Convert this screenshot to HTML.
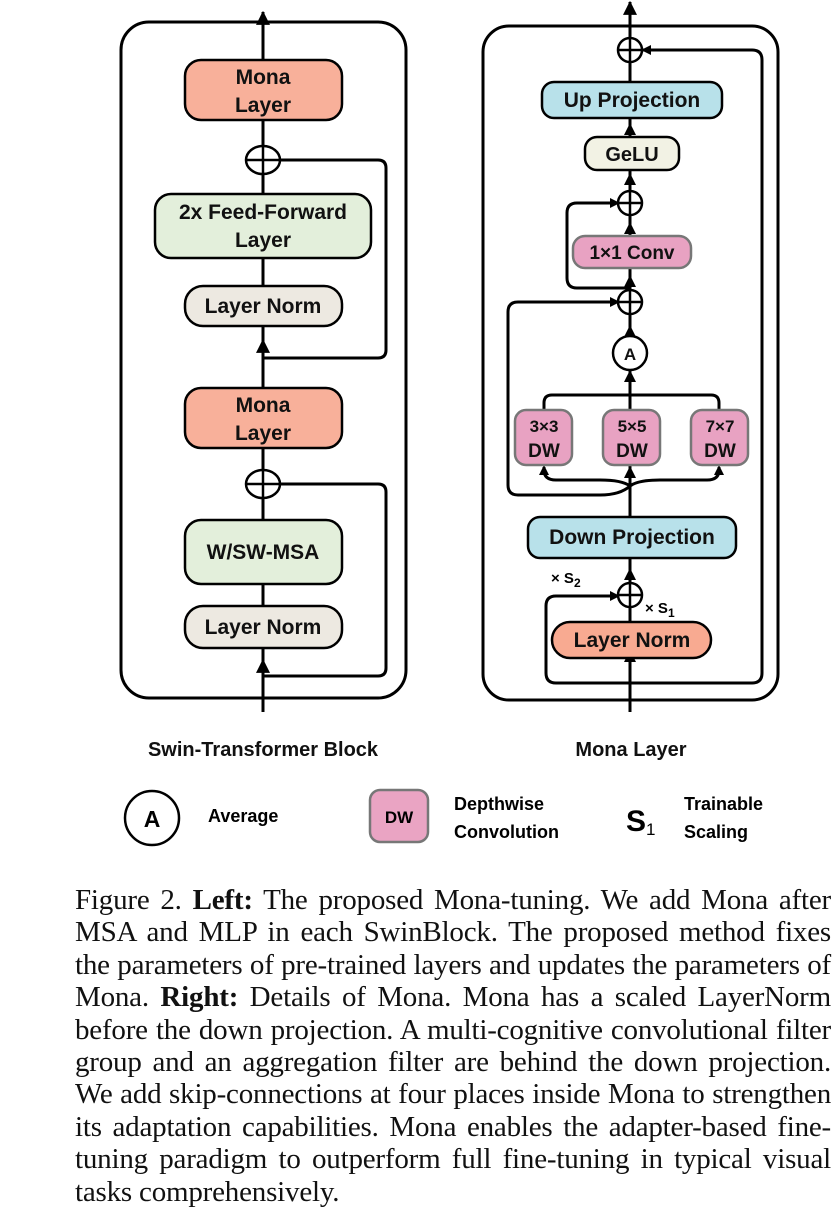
<!DOCTYPE html>
<html><head><meta charset="utf-8"><style>
body{margin:0;background:#fff;width:836px;height:1228px;overflow:hidden;position:relative}
svg{position:absolute;left:0;top:0}
.cap{position:absolute;left:75px;width:756px;font-family:"Liberation Serif",serif;font-size:29px;color:#111}
.cap div{height:32.4px;line-height:32.4px;text-align:justify;text-align-last:justify;white-space:nowrap;letter-spacing:-0.2px}
.cap div.last{text-align-last:left}
</style></head><body>
<svg width="836" height="880" viewBox="0 0 836 880" font-family="Liberation Sans, sans-serif" font-weight="bold">
<defs><marker id="a" markerWidth="10" markerHeight="10" refX="8" refY="5" orient="auto" markerUnits="userSpaceOnUse"><path d="M0,0 L10,5 L0,10 z" fill="#000"/></marker>
<marker id="b" viewBox="0 0 12 12" markerWidth="14" markerHeight="14" refX="11" refY="6" orient="auto" markerUnits="userSpaceOnUse"><path d="M0,0 L12,6 L0,12 z" fill="#000"/></marker></defs>
<g stroke="#000" stroke-width="3" fill="none">
<rect x="121" y="22" width="285" height="676" rx="28"/>
<line x1="263" y1="712" x2="263" y2="12" marker-end="url(#b)"/>
<path d="M263,676 H378 Q386,676 386,668 V492 Q386,484 378,484 H280"/>
<path d="M263,358 H378 Q386,358 386,350 V168 Q386,160 378,160 H280"/>
<line x1="263" y1="360" x2="263" y2="340" marker-end="url(#b)"/>
<line x1="263" y1="676" x2="263" y2="660" marker-end="url(#b)"/>
</g>
<g stroke="#000" stroke-width="2.5">
<rect x="185" y="60" width="157" height="60" rx="16" fill="#f8b09a"/>
<ellipse cx="263" cy="160" rx="17" ry="14" fill="#fff"/>
<rect x="155" y="194" width="216" height="64" rx="16" fill="#e3efdb"/>
<rect x="185" y="286" width="157" height="40" rx="18" fill="#ede9e1"/>
<rect x="185" y="388" width="157" height="60" rx="16" fill="#f8b09a"/>
<ellipse cx="263" cy="484" rx="17" ry="14" fill="#fff"/>
<rect x="185" y="520" width="157" height="64" rx="16" fill="#e3efdb"/>
<rect x="185" y="606" width="157" height="42" rx="18" fill="#ede9e1"/>
</g>
<g stroke="#000" stroke-width="2.5"><line x1="246" y1="160" x2="280" y2="160"/><line x1="263" y1="146" x2="263" y2="174"/><line x1="246" y1="484" x2="280" y2="484"/><line x1="263" y1="470" x2="263" y2="498"/></g>
<g font-size="21" text-anchor="middle" fill="#111">
<text x="263" y="84">Mona</text><text x="263" y="112">Layer</text>
<text x="263" y="219">2x Feed-Forward</text><text x="263" y="247">Layer</text>
<text x="263" y="313">Layer Norm</text>
<text x="263" y="412">Mona</text><text x="263" y="440">Layer</text>
<text x="263" y="559">W/SW-MSA</text>
<text x="263" y="634">Layer Norm</text>
</g>
<!-- RIGHT -->
<g stroke="#000" stroke-width="3" fill="none">
<rect x="483" y="26" width="295" height="674" rx="26"/>
<line x1="630" y1="712" x2="630" y2="2" marker-end="url(#b)"/>
<path d="M630,683 H556 Q546,683 546,673 V606 Q546,596 556,596 H618" marker-end="url(#a)"/>
<path d="M630,683 H752 Q762,683 762,673 V60 Q762,50 752,50 H643" marker-end="url(#a)"/>
<path d="M630,288 H577 Q567,288 567,278 V213 Q567,203 577,203 H618" marker-end="url(#a)"/>
<path d="M630,486 Q620,495 600,495 H518 Q508,495 508,485 V312 Q508,302 518,302 H618" marker-end="url(#a)"/>
<path d="M630,486 Q622,480 600,480 H556 Q544,480 544,470 V467" marker-end="url(#a)"/>
<path d="M630,486 Q638,480 660,480 H707 Q719,480 719,470 V467" marker-end="url(#a)"/>
<path d="M544,410 V403 Q544,395 552,395 H711 Q719,395 719,403 V410"/>
</g>
<g fill="#000"><path d="M624,662 L630,650 L636,662z"/><path d="M624,580 L630,568 L636,580z"/><path d="M624,478 L630,466 L636,478z"/><path d="M624,382 L630,370 L636,382z"/><path d="M624,337 L630,325 L636,337z"/><path d="M624,234 L630,222 L636,234z"/><path d="M624,287 L630,275 L636,287z"/><path d="M624,185 L630,173 L636,185z"/><path d="M624,135 L630,123 L636,135z"/></g>
<g stroke="#000" stroke-width="2.5">
<rect x="542" y="82" width="180" height="36" rx="12" fill="#b8e1ea"/>
<rect x="585" y="137" width="94" height="33" rx="12" fill="#f2f2e4"/>
<rect x="573" y="236" width="118" height="32" rx="12" fill="#e8a2c2" stroke="#777"/>
<circle cx="630" cy="353" r="17" fill="#fff"/>
<rect x="515" y="410" width="57" height="55" rx="11" fill="#e8a2c2" stroke="#777"/>
<rect x="603" y="410" width="57" height="55" rx="11" fill="#e8a2c2" stroke="#777"/>
<rect x="691" y="410" width="57" height="55" rx="11" fill="#e8a2c2" stroke="#777"/>
<rect x="528" y="517" width="208" height="41" rx="12" fill="#b8e1ea"/>
<rect x="552" y="622" width="159" height="36" rx="18" fill="#f8aa91"/>
<circle cx="630" cy="50" r="12" fill="#fff"/><circle cx="630" cy="203" r="12" fill="#fff"/><circle cx="630" cy="302" r="12" fill="#fff"/><circle cx="630" cy="595" r="12" fill="#fff"/>
<line x1="618" y1="50" x2="642" y2="50"/><line x1="630" y1="38" x2="630" y2="62"/>
<line x1="618" y1="203" x2="642" y2="203"/><line x1="630" y1="191" x2="630" y2="215"/>
<line x1="618" y1="302" x2="642" y2="302"/><line x1="630" y1="290" x2="630" y2="314"/>
<line x1="618" y1="595" x2="642" y2="595"/><line x1="630" y1="583" x2="630" y2="607"/>
</g>
<g text-anchor="middle" fill="#111">
<text x="632" y="107" font-size="21">Up Projection</text>
<text x="632" y="161" font-size="20">GeLU</text>
<text x="632" y="259" font-size="19">1×1 Conv</text>
<text x="630" y="360" font-size="17">A</text>
<text x="544" y="432" font-size="17">3×3</text><text x="544" y="457" font-size="19">DW</text>
<text x="632" y="432" font-size="17">5×5</text><text x="632" y="457" font-size="19">DW</text>
<text x="720" y="432" font-size="17">7×7</text><text x="720" y="457" font-size="19">DW</text>
<text x="632" y="544" font-size="21">Down Projection</text>
<text x="632" y="647" font-size="21">Layer Norm</text>
</g>
<text x="551" y="583" font-size="15">× S<tspan font-size="12" dy="4">2</tspan></text>
<text x="645" y="613" font-size="15">× S<tspan font-size="12" dy="4">1</tspan></text>
<g font-size="20" text-anchor="middle" fill="#111">
<text x="263" y="756">Swin-Transformer Block</text>
<text x="631" y="756">Mona Layer</text>
</g>
<circle cx="152" cy="818" r="27" fill="#fff" stroke="#000" stroke-width="2.5"/>
<text x="152" y="827" font-size="23" text-anchor="middle">A</text>
<text x="208" y="822" font-size="18">Average</text>
<rect x="370" y="790" width="58" height="52" rx="10" fill="#eaa4c3" stroke="#777" stroke-width="2.5"/>
<text x="399" y="823" font-size="17" text-anchor="middle">DW</text>
<text x="454" y="810" font-size="18">Depthwise</text>
<text x="454" y="838" font-size="18">Convolution</text>
<text x="626" y="831" font-size="30">S<tspan font-size="17" dy="4" font-weight="normal">1</tspan></text>
<text x="684" y="810" font-size="18">Trainable</text>
<text x="684" y="838" font-size="18">Scaling</text>
</svg>
<div class="cap" style="top:884px">
<div>Figure 2. <b>Left:</b> The proposed Mona-tuning. We add Mona after</div>
<div>MSA and MLP in each SwinBlock. The proposed method fixes</div>
<div>the parameters of pre-trained layers and updates the parameters of</div>
<div>Mona. <b>Right:</b> Details of Mona. Mona has a scaled LayerNorm</div>
<div>before the down projection. A multi-cognitive convolutional filter</div>
<div>group and an aggregation filter are behind the down projection.</div>
<div>We add skip-connections at four places inside Mona to strengthen</div>
<div>its adaptation capabilities. Mona enables the adapter-based fine-</div>
<div>tuning paradigm to outperform full fine-tuning in typical visual</div>
<div class="last">tasks comprehensively.</div>
</div>
</body></html>
